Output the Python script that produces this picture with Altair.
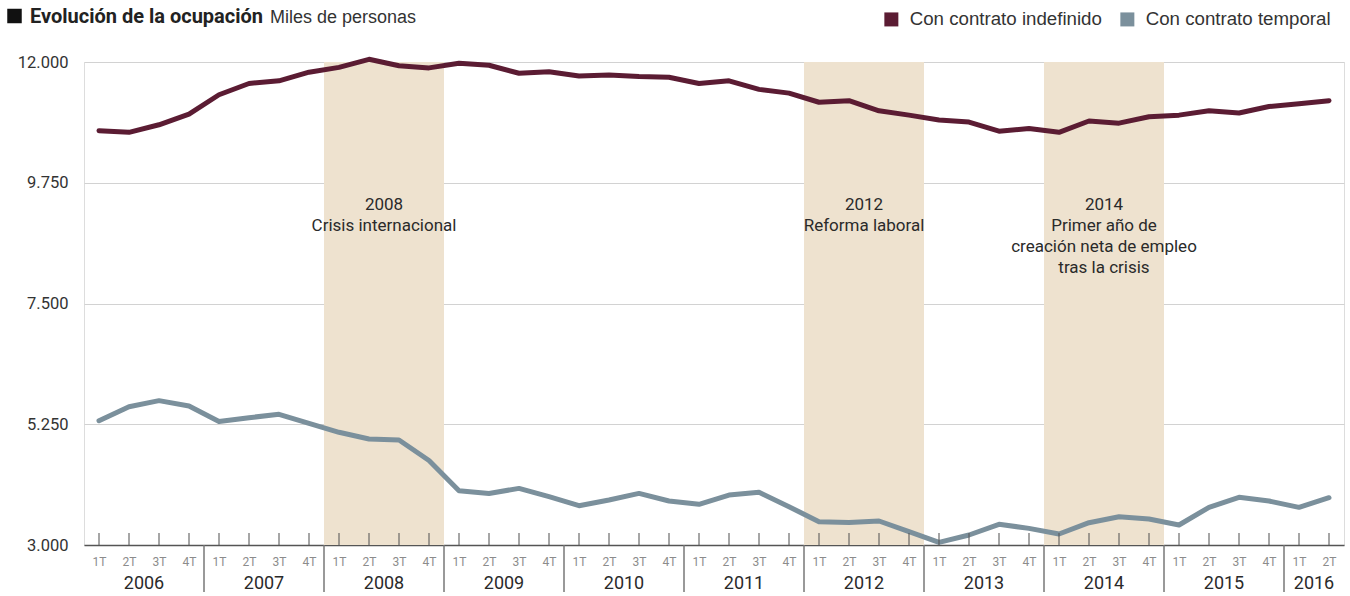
import altair as alt
import pandas as pd

# ---------------- data ----------------
YEARS = [2006, 2007, 2008, 2009, 2010, 2011, 2012, 2013, 2014, 2015, 2016]
QUARTERS = ["1T", "2T", "3T", "4T"]

INDEFINIDO = [
    10720, 10690, 10830, 11030,
    11390, 11600, 11650, 11810,
    11900, 12050, 11930, 11890,
    11975, 11940, 11790, 11820,
    11740, 11760, 11730, 11715,
    11600, 11650, 11490, 11420,
    11250, 11280, 11090, 11010,
    10920, 10880, 10710, 10760,
    10690, 10900, 10860, 10980,
    11010, 11090, 11050, 11170,
    11220, 11280,
]
TEMPORAL = [
    5316, 5577, 5690, 5590,
    5300, 5372, 5435, 5267,
    5100, 4975, 4956, 4575,
    4011, 3961, 4055, 3900,
    3732, 3838, 3961, 3819,
    3758, 3931, 3981, 3714,
    3434, 3421, 3447, 3248,
    3050, 3186, 3385, 3310,
    3205, 3416, 3527, 3484,
    3373, 3702, 3889, 3820,
    3702, 3881,
]
SERIES = ["Con contrato indefinido", "Con contrato temporal"]
COLORS = ["#5b1c33", "#7b909c"]
Y_TICKS = [3000, 5250, 7500, 9750, 12000]
HIGHLIGHT_YEARS = [2008, 2012, 2014]
NOTES = [
    "2008\nCrisis internacional",
    "2012\nReforma laboral",
    "2014\nPrimer año de\ncreación neta de empleo\ntras la crisis",
]
TITLE = "Evolución de la ocupación"
SUBTITLE = "Miles de personas"

# ---------------- tables ----------------
periods = [(y, q) for y in YEARS for q in QUARTERS][: len(INDEFINIDO)]
n = len(periods)

rows = []
for i, (y, q) in enumerate(periods):
    rows.append({"idx": i, "year": y, "q": q, "serie": SERIES[0], "value": INDEFINIDO[i]})
    rows.append({"idx": i, "year": y, "q": q, "serie": SERIES[1], "value": TEMPORAL[i]})
df = pd.DataFrame(rows)

ticks_df = pd.DataFrame({"idx": list(range(n))})

year_rows = []
for y in YEARS:
    ids = [i for i, (yy, _) in enumerate(periods) if yy == y]
    year_rows.append({"year": str(y), "start": ids[0] - 0.5, "end": ids[-1] + 0.5,
                      "center": (ids[0] + ids[-1]) / 2})
years_df = pd.DataFrame(year_rows)
sep_df = years_df.iloc[1:][["start"]]
hl_df = years_df[years_df["year"].isin([str(y) for y in HIGHLIGHT_YEARS])].copy()
hl_df["note"] = NOTES

# ---------------- styling ----------------
W, H = 1260, 483
COND = "Roboto, Liberation Sans, sans-serif"
REG = "Liberation Sans, Arial, sans-serif"

xs = alt.Scale(domain=[-0.5, n - 0.5], nice=False, zero=False)
q_expr = "[" + ",".join("'%s'" % q for q in QUARTERS) + "][datum.value % 4]"
x_axis = alt.Axis(values=list(range(n)), labelExpr=q_expr, grid=False, ticks=False,
                  domain=True, domainColor="#555555", domainWidth=1.5,
                  labelFont=COND, labelFontSize=12, labelColor="#8c8c8c",
                  labelPadding=11, labelFlush=False, labelOverlap=False, title=None)
y_axis = alt.Axis(values=Y_TICKS, labelExpr="replace(format(datum.value, ','), ',', '.')",
                  grid=True, gridColor="#d2d2d2", gridWidth=1, domain=False, ticks=False,
                  labelFont=COND, labelFontSize=16.5, labelColor="#333333",
                  labelPadding=16, title=None)

shade = alt.Chart(hl_df).mark_rect(color="#eee2cf").encode(
    x=alt.X("start:Q", scale=xs, axis=x_axis), x2="end:Q",
    y=alt.value(0), y2=alt.value(H))

notes = alt.Chart(hl_df).mark_text(font=COND, fontSize=17, color="#2a2a2a",
                                   baseline="top", align="center", lineBreak="\n",
                                   lineHeight=21).encode(
    x=alt.X("center:Q", scale=xs, axis=x_axis), y=alt.value(135), text="note:N")

lines = alt.Chart(df).mark_line(strokeWidth=5, strokeJoin="round", strokeCap="round").encode(
    x=alt.X("idx:Q", scale=xs, axis=x_axis),
    y=alt.Y("value:Q", scale=alt.Scale(domain=[3000, 12000], nice=False, zero=False), axis=y_axis),
    color=alt.Color("serie:N", scale=alt.Scale(domain=SERIES, range=COLORS),
                    legend=alt.Legend(orient="none", legendX=798, legendY=-52,
                                      direction="horizontal", title=None,
                                      symbolType="square", symbolSize=25,
                                      symbolStrokeWidth=9, labelFont=REG,
                                      labelFontSize=18.7, labelColor="#333333",
                                      labelLimit=400,
                                      columnPadding=4, labelOffset=9, padding=0)),
    detail="serie:N",
)

up_ticks = alt.Chart(ticks_df).mark_tick(color="#555555", thickness=1.5, size=12).encode(
    x=alt.X("idx:Q", scale=xs, axis=x_axis), y=alt.value(H - 6))

seps = alt.Chart(sep_df).mark_rule(color="#777777", strokeWidth=1.5).encode(
    x=alt.X("start:Q", scale=xs, axis=x_axis), y=alt.value(H), y2=alt.value(H + 47))

year_labels = alt.Chart(years_df).mark_text(font=COND, fontSize=18, color="#2a2a2a",
                                            baseline="middle", align="center").encode(
    x=alt.X("center:Q", scale=xs, axis=x_axis), y=alt.value(H + 39), text="year:N")

title_sq = alt.Chart(pd.DataFrame({"a": [0]})).mark_square(size=210, color="#111111",
                                                            filled=True, opacity=1).encode(
    x=alt.value(-69.5), y=alt.value(-46))
title_txt = alt.Chart(pd.DataFrame({"t": [TITLE]})).mark_text(
    font=COND, fontWeight="bold", fontSize=20, align="left", baseline="alphabetic",
    color="#222222").encode(x=alt.value(-54), y=alt.value(-39), text="t:N")
sub_txt = alt.Chart(pd.DataFrame({"t": [SUBTITLE]})).mark_text(
    font=REG, fontSize=18, align="left", baseline="alphabetic",
    color="#333333").encode(x=alt.value(186), y=alt.value(-39), text="t:N")

chart = alt.layer(shade, notes, lines, up_ticks, seps, year_labels,
                  title_sq, title_txt, sub_txt).properties(
    width=W, height=H,
    padding={"left": 84, "top": 62, "right": 6, "bottom": 51},
    autosize=alt.AutoSizeParams(type="none"),
).configure_view(stroke=None).configure(background="white")

chart.save("out.html", embed_options={"renderer": "svg", "actions": False})
